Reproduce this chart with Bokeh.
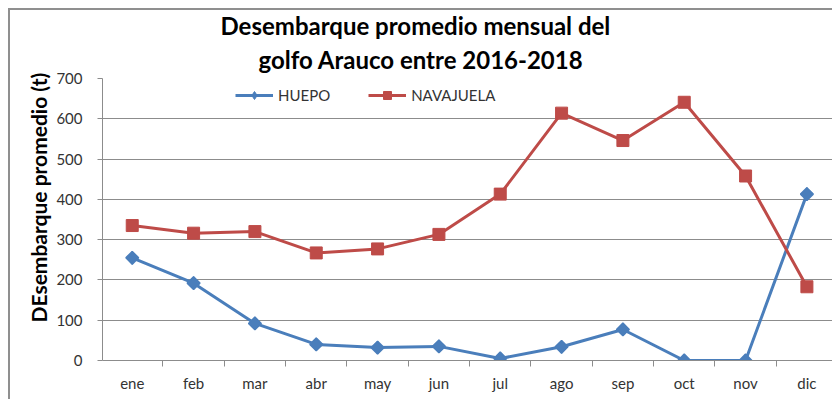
import math
from bokeh.plotting import figure
from bokeh.models import Range1d, FixedTicker, Legend, LegendItem, Title
from bokeh.embed import file_html
from bokeh.resources import INLINE

months = ["ene", "feb", "mar", "abr", "may", "jun", "jul", "ago", "sep", "oct", "nov", "dic"]
huepo = [255, 192, 92, 40, 32, 35, 5, 34, 77, 0, 0, 413]
navajuela = [335, 316, 320, 267, 277, 313, 413, 614, 546, 641, 458, 183]
y_ticks = [0, 100, 200, 300, 400, 500, 600, 700]
title_lines = ["Desembarque promedio mensual del", "golfo Arauco entre 2016-2018"]
y_label = "DEsembarque promedio (t)"

xs = list(range(len(months)))
FONT = "Lato"
GRID = "#8c8c8c"
BLUE = "#4a7ebb"
RED = "#be4b48"

p = figure(width=824, height=391, output_backend="svg", toolbar_location=None,
           x_range=Range1d(-0.485, 11.45), y_range=Range1d(0, 700),
           min_border_left=92, min_border_right=0, min_border_top=67, min_border_bottom=41,
           title=None)
p.outline_line_color = None
p.background_fill_color = "white"
p.border_fill_color = "white"
p.styles = {"margin-left": "8px", "margin-top": "8px",
            "border-top": "2px solid #8f8f8f", "border-left": "2px solid #8f8f8f"}

# titles (later added = higher)
p.add_layout(Title(text=title_lines[1], text_font=FONT, text_font_size="24px",
                   text_font_style="bold", text_color="black", align="left",
                   offset=156, standoff=9), "above")
p.add_layout(Title(text=title_lines[0], text_font=FONT, text_font_size="24px",
                   text_font_style="bold", text_color="black", align="left",
                   offset=118, standoff=-3), "above")

# x axis
p.xaxis.ticker = FixedTicker(ticks=xs, minor_ticks=[i - 0.5 for i in range(len(months) + 1)])
p.xaxis.major_label_overrides = {i: m for i, m in enumerate(months)}
p.xaxis.major_tick_out = 0
p.xaxis.major_tick_in = 0
p.xaxis.minor_tick_out = 6
p.xaxis.minor_tick_in = 0
p.xaxis.minor_tick_line_color = GRID
p.xaxis.axis_line_color = GRID
p.xaxis.major_label_text_font = FONT
p.xaxis.major_label_text_font_size = "15px"
p.xaxis.major_label_text_color = "#333333"
p.xaxis.major_label_standoff = 7

# y axis
p.yaxis.ticker = FixedTicker(ticks=y_ticks)
p.yaxis.minor_tick_line_color = None
p.yaxis.major_tick_out = 5
p.yaxis.major_tick_in = 0
p.yaxis.major_tick_line_color = GRID
p.yaxis.axis_line_color = GRID
p.yaxis.major_label_text_font = FONT
p.yaxis.major_label_text_font_size = "15px"
p.yaxis.major_label_text_color = "#333333"
p.yaxis.major_label_standoff = 15

# y-axis title (placed as a side title so it can sit off-centre like the original)
p.add_layout(Title(text=y_label, text_font=FONT, text_font_size="21px",
                   text_font_style="bold", text_color="black", align="left",
                   offset=38, standoff=5), "left")

p.xgrid.grid_line_color = None
p.ygrid.grid_line_color = GRID
p.ygrid.grid_line_width = 1

l1 = p.line(xs, huepo, line_color=BLUE, line_width=3)
m1 = p.scatter(xs, huepo, marker="diamond", size=13, fill_color=BLUE, line_color=BLUE)
m1b = p.scatter(xs, huepo, marker="square", angle=math.pi / 4, size=9,
                fill_color=BLUE, line_color=BLUE, line_width=1.5)
l2 = p.line(xs, navajuela, line_color=RED, line_width=3)
m2 = p.scatter(xs, navajuela, marker="square", size=12, fill_color=RED, line_color=RED)

legend = Legend(items=[LegendItem(label="HUEPO", renderers=[l1, m1]),
                       LegendItem(label="NAVAJUELA", renderers=[l2, m2])],
                orientation="horizontal", location=(133, 255),
                background_fill_alpha=0, border_line_color=None,
                padding=0, margin=0, spacing=38, glyph_width=38, glyph_height=20,
                label_standoff=5, label_text_font=FONT, label_text_font_size="15px",
                label_text_color="#333333", label_height=20)
p.add_layout(legend, "center")

open("out.html", "w").write(file_html(p, INLINE))
